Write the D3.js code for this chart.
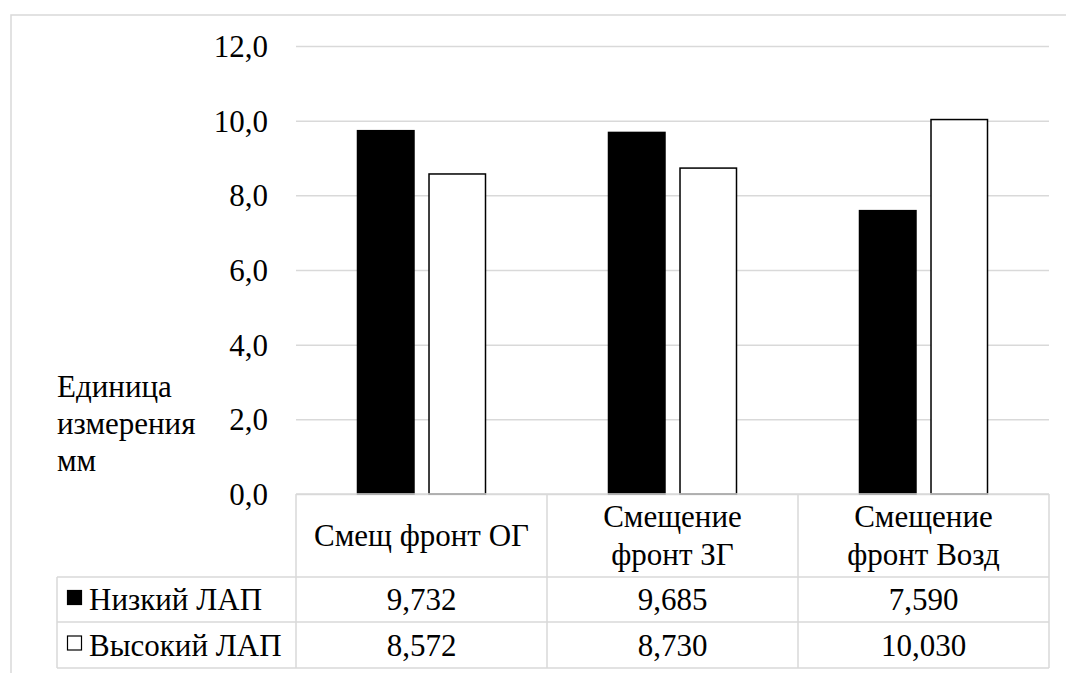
<!DOCTYPE html>
<html>
<head>
<meta charset="utf-8">
<script src="https://cdn.jsdelivr.net/npm/d3@7/dist/d3.min.js"></script>
<style>
  html, body { margin: 0; padding: 0; background: #fff; }
</style>
</head>
<body>
<svg id="chart" width="1066" height="673"></svg>
<script>
// Categories (each may wrap onto two lines in the table header)
const categories = ["Смещ фронт ОГ", "Смещение фронт ЗГ", "Смещение фронт Возд"];
const categoryLines = [["Смещ фронт ОГ"], ["Смещение", "фронт ЗГ"], ["Смещение", "фронт Возд"]];
const seriesNames = ["Низкий ЛАП", "Высокий ЛАП"];
const lowValues = [9.732, 9.685, 7.590];
const highValues = [8.572, 8.730, 10.030];
const yTicks = [0, 2, 4, 6, 8, 10, 12];
const yTitleLines = ["Единица", "измерения", "мм"];

const seriesValues = [lowValues, highValues];
const seriesFill = ["#000000", "#ffffff"];

const ru = d3.formatLocale({ decimal: ",", thousands: "\u00a0", grouping: [3], currency: ["", ""] });
const fmtTick = ru.format(".1f");
const fmtVal = ru.format(".3f");

const FONT = '"Liberation Serif"';
const svg = d3.select("#chart").attr("font-family", "Liberation Serif");
const FS = 31;
const grid = "#d9d9d9";

// Plot region
const plot = { left: 296, right: 1049, top: 46, bottom: 494 };
// Table rows
const rowHeader = [494, 577], row1 = [577, 622], row2 = [622, 668];
const legendLeft = 57;
const baseShift = 10.5; // baseline offset below a line's visual centre

const serifText = (sel) => sel
  .attr("font-family", "Liberation Serif")
  .style("font-family", FONT, "important")
  .attr("font-size", FS).attr("fill", "#000");
const addText = (parent) => serifText(parent.append("text"));

// Outer chart frame
svg.append("rect")
  .attr("x", 11).attr("y", 15)
  .attr("width", 1070).attr("height", 680)
  .attr("fill", "none").attr("stroke", grid).attr("stroke-width", 1.5);

const y = d3.scaleLinear().domain([0, 12]).range([plot.bottom, plot.top]);
const x0 = d3.scaleBand().domain(categories).range([plot.left, plot.right]).padding(0);
const x1 = d3.scaleBand().domain(seriesNames).range([0, x0.bandwidth()])
  .paddingInner(0.21).paddingOuter(0.86);

// Gridlines + tick labels
const yAxis = d3.axisLeft(y).tickValues(yTicks)
  .tickSize(-(plot.right - plot.left)).tickFormat(fmtTick).tickPadding(28);
const gy = svg.append("g").attr("transform", `translate(${plot.left},0)`).call(yAxis)
  .attr("font-family", "Liberation Serif").attr("font-size", FS);
gy.select(".domain").remove();
gy.selectAll(".tick line").attr("stroke", grid).attr("stroke-width", 1.5);
serifText(gy.selectAll(".tick text")).attr("dy", null).attr("y", baseShift);

// Axis title
const yt = addText(svg);
yTitleLines.forEach((t, i) => {
  yt.append("tspan").attr("x", 57).attr("y", 397 + i * 37).text(t);
});

// Bars
seriesNames.forEach((s, si) => {
  svg.append("g").selectAll("rect")
    .data(seriesValues[si])
    .join("rect")
    .attr("x", (d, i) => x0(categories[i]) + x1(s))
    .attr("y", d => y(d))
    .attr("width", x1.bandwidth())
    .attr("height", d => y(0) - y(d))
    .attr("fill", seriesFill[si])
    .attr("stroke", "#000")
    .attr("stroke-width", 1.5);
});

// Data table
const tbl = svg.append("g").attr("stroke", grid).attr("stroke-width", 1.5).attr("fill", "none");
const line = (xa, ya, xb, yb) => tbl.append("line").attr("x1", xa).attr("y1", ya).attr("x2", xb).attr("y2", yb);
line(plot.left, rowHeader[0], plot.right, rowHeader[0]);
line(legendLeft, row1[0], plot.right, row1[0]);
line(legendLeft, row2[0], plot.right, row2[0]);
line(legendLeft, row2[1], plot.right, row2[1]);
line(legendLeft, row1[0], legendLeft, row2[1]);
const colEdges = categories.map(c => x0(c)).concat([plot.right]);
colEdges.forEach(cx => line(cx, rowHeader[0], cx, row2[1]));

// Header cells
categories.forEach((c, i) => {
  const cx = x0(c) + x0.bandwidth() / 2;
  const lines = categoryLines[i];
  const mid = (rowHeader[0] + rowHeader[1]) / 2;
  const t = addText(svg).attr("text-anchor", "middle");
  lines.forEach((l, li) => {
    t.append("tspan").attr("x", cx)
      .attr("y", mid + baseShift + (li - (lines.length - 1) / 2) * 38)
      .text(l);
  });
});

// Value rows with legend keys
[row1, row2].forEach((r, si) => {
  const mid = (r[0] + r[1]) / 2;
  svg.append("rect")
    .attr("x", 67.5).attr("y", mid - 9)
    .attr("width", 14).attr("height", 14)
    .attr("fill", seriesFill[si]).attr("stroke", "#000").attr("stroke-width", 1.2);
  addText(svg).attr("x", 89).attr("y", mid + baseShift).text(seriesNames[si]);
  seriesValues[si].forEach((v, i) => {
    addText(svg)
      .attr("x", x0(categories[i]) + x0.bandwidth() / 2)
      .attr("y", mid + baseShift)
      .attr("text-anchor", "middle")
      .text(fmtVal(v));
  });
});
</script>
</body>
</html>
